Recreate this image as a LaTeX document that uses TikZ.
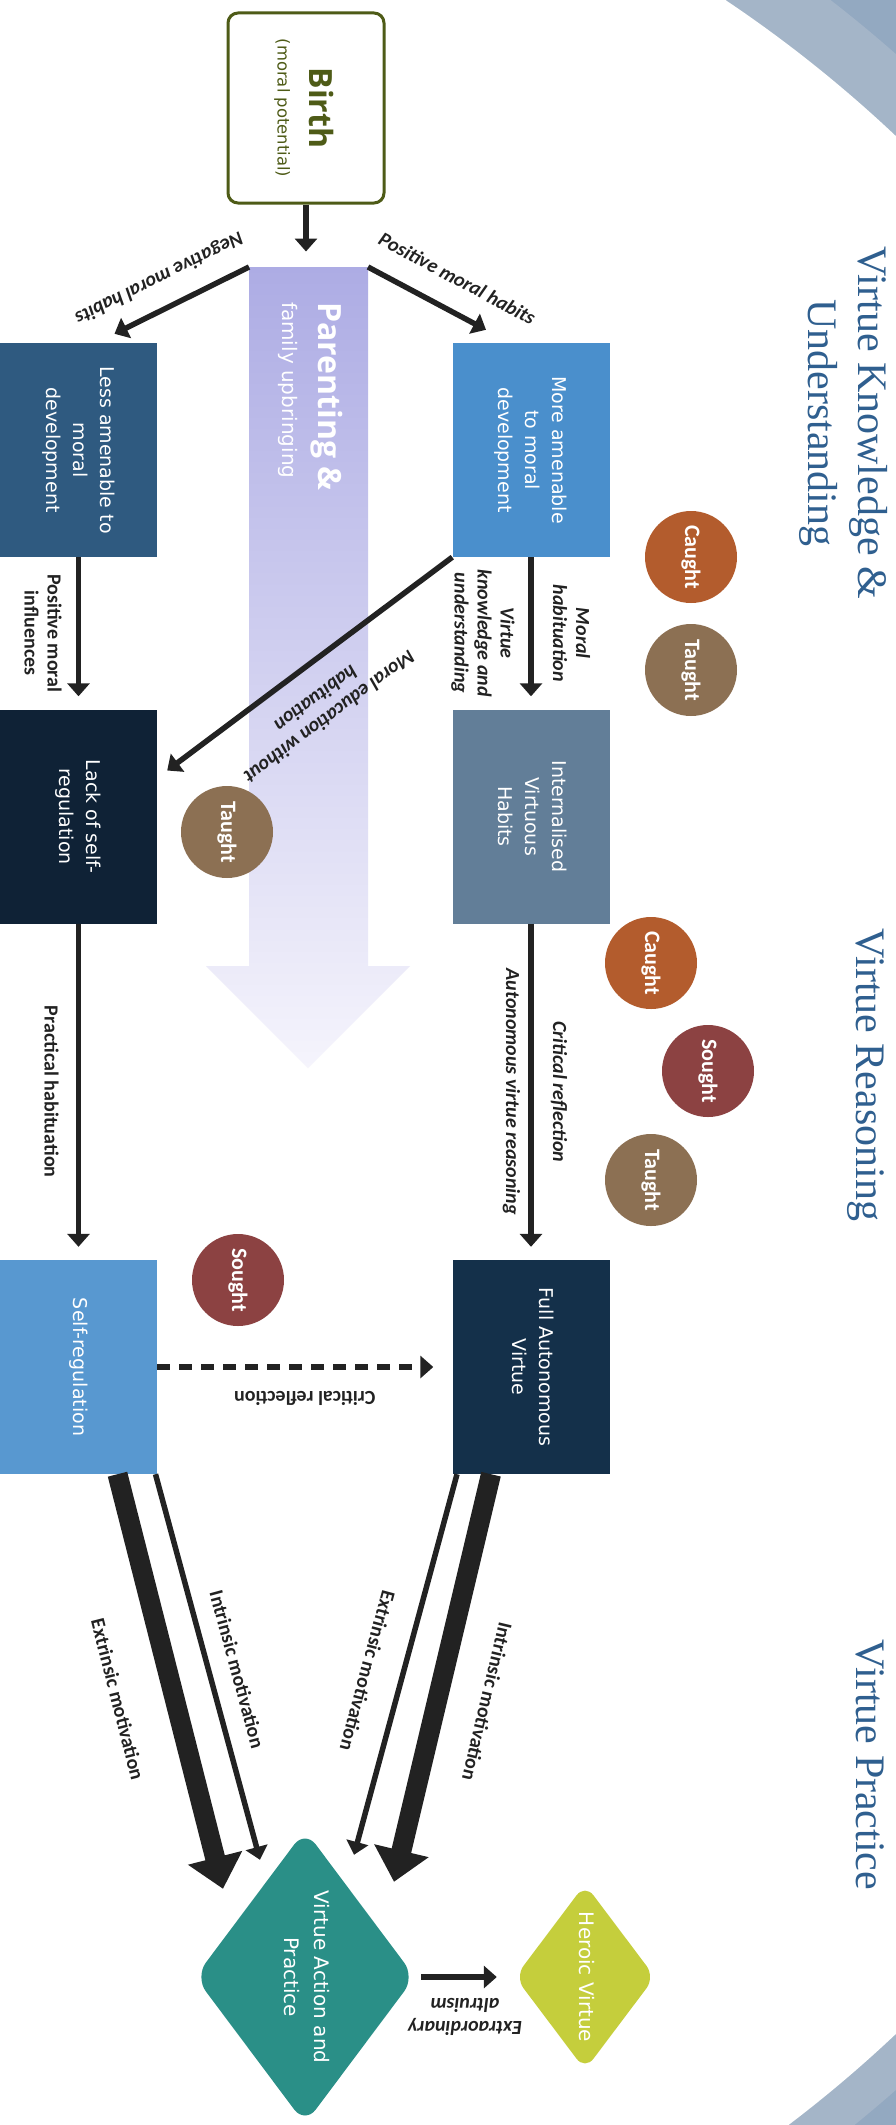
\documentclass[tikz,border=0pt]{standalone}
\usepackage{fontspec}
\setmainfont{Open Sans}
\newfontfamily\boxfont{DejaVu Sans}
\newfontfamily\lblfont{Carlito}
\newfontfamily\ttlfont{Liberation Serif}
\usepackage{graphicx}
\usetikzlibrary{arrows.meta,shapes.geometric}

\definecolor{olivec}{HTML}{4E5B17}
\definecolor{arrowc}{HTML}{222222}
\definecolor{lessc}{HTML}{2F5A80}
\definecolor{morec}{HTML}{4A8FCC}
\definecolor{lackc}{HTML}{0F2236}
\definecolor{habitc}{HTML}{627E98}
\definecolor{selfc}{HTML}{5898D0}
\definecolor{fullc}{HTML}{14304A}
\definecolor{actc}{HTML}{2A8F87}
\definecolor{heroc}{HTML}{C5CE3C}
\definecolor{caughtc}{HTML}{B35C2D}
\definecolor{taughtc}{HTML}{8C7053}
\definecolor{soughtc}{HTML}{8C4242}
\definecolor{titlec}{HTML}{2F5F8F}
\definecolor{bglight}{HTML}{A4B5C8}
\definecolor{bgdark}{HTML}{93A9C1}
\definecolor{parentc}{HTML}{ADACE4}
\definecolor{parentend}{HTML}{F5F4FC}

% text turned a quarter clockwise / upside down, lines centred
\newcommand{\vt}[1]{\rotatebox{-90}{\begin{tabular}{@{}c@{}}#1\end{tabular}}}
\newcommand{\ut}[1]{\rotatebox{180}{\begin{tabular}{@{}c@{}}#1\end{tabular}}}

\tikzset{
  stagebox/.style={rectangle, minimum width=157pt, minimum height=214pt, inner sep=0pt,
    text=white, font=\boxfont\fontsize{19}{27}\selectfont},
  gem/.style={diamond, aspect=.74, inner sep=0pt, text=white},
  way/.style={draw=arrowc, line width=5.5pt, -{Triangle[width=22pt,length=13pt]}},
  bigway/.style={draw=arrowc, line width=20pt, -{Triangle[width=54pt,length=32pt]}},
  lbl/.style={inner sep=0pt, text=arrowc, allow upside down,
    font=\lblfont\bfseries\fontsize{20}{23}\selectfont},
  ilbl/.style={lbl, font=\lblfont\bfseries\itshape\fontsize{20}{23}\selectfont},
  blob/.style={circle, minimum size=92pt, inner sep=0pt, text=white,
    font=\lblfont\bfseries\fontsize{22}{26}\selectfont},
  phasetitle/.style={inner sep=0pt, text=titlec, font=\ttlfont\fontsize{42}{50}\selectfont},
}

\begin{document}
\begin{tikzpicture}[x=1pt,y=-1pt]
\useasboundingbox (0,0) rectangle (896,2125);
\clip (0,0) rectangle (896,2125);
% backdrop
\fill[bgdark] (0,0) rectangle (896,2125);
\fill[bglight] (0,1072) circle (1356);
\fill[white] (0,1085) circle (1305);

% parenting arrow
\shade[top color=parentc, bottom color=parentend] (249,267) -- (368,267) -- (368,966) -- (410,966)
  -- (308,1068) -- (206,966) -- (249,966) -- cycle;
\coordinate (pl) at (249,267);
\coordinate (pr) at (368,267);
\node[anchor=north, inner sep=0pt, text=white, font=\boxfont\fontsize{20}{36}\selectfont] (parent) at (308,302)
  {\rotatebox{-90}{\begin{tabular}{@{}l@{}}{\rmfamily\bfseries\fontsize{32}{36}\selectfont Parenting \&}\\family upbringing\end{tabular}}};

% birth
\node[rectangle, rounded corners=10pt, draw=olivec, line width=3pt, fill=white,
  minimum width=156pt, minimum height=190pt] (birth) at (306,108) {};
\node[inner sep=0pt, text=olivec, font=\boxfont\fontsize{16.4}{32}\selectfont] (birthtext) at (301,108)
  {\vt{{\rmfamily\bfseries\fontsize{32}{32}\selectfont Birth}\\(moral potential)}};

% stages
\node[stagebox, fill=lessc] (less) at (78.5,450) {\vt{Less amenable to\\moral\\development}};
\node[stagebox, fill=morec] (more) at (531,450) {\vt{More amenable\\to moral\\development}};
\node[stagebox, fill=lackc] (lack) at (78.5,816.5) {\vt{Lack of self-\\regulation}};
\node[stagebox, fill=habitc] (habits) at (531,816.5) {\vt{Internalised\\Virtuous\\Habits}};
\node[stagebox, fill=selfc] (selfreg) at (78.5,1367) {\vt{Self-regulation}};
\node[stagebox, fill=fullc] (full) at (531,1367) {\vt{Full Autonomous\\Virtue}};

\node[gem, fill=actc, rounded corners=18pt, minimum width=220pt, minimum height=294pt,
  font=\boxfont\fontsize{20}{30}\selectfont] (act) at (305,1977) {\vt{Virtue Action and\\Practice}};
\node[gem, fill=heroc, rounded corners=14pt, minimum width=140pt, minimum height=186pt,
  font=\boxfont\fontsize{20}{26}\selectfont] (hero) at (585,1977) {\vt{Heroic Virtue}};

% caught, taught, sought
\node[blob, fill=caughtc] (caught1) at (691,557) {\rotatebox{-90}{Caught}};
\node[blob, fill=taughtc] (taught1) at (691,670) {\rotatebox{-90}{Taught}};
\node[blob, fill=taughtc] (taught2) at (227,832) {\rotatebox{-90}{Taught}};
\node[blob, fill=caughtc] (caught2) at (651,963) {\rotatebox{-90}{Caught}};
\node[blob, fill=soughtc] (sought1) at (708,1071) {\rotatebox{-90}{Sought}};
\node[blob, fill=taughtc] (taught3) at (651,1180) {\rotatebox{-90}{Taught}};
\node[blob, fill=soughtc] (sought2) at (238,1280) {\rotatebox{-90}{Sought}};

% phases
\node[phasetitle] (knowing) at (843,423) {\vt{Virtue Knowledge \&\\Understanding}};
\node[phasetitle] (reasoning) at (866,1075) {\vt{Virtue Reasoning}};
\node[phasetitle] (practice) at (866,1765) {\vt{Virtue Practice}};

% connectors
\draw[way] (birth.south) -- ++(0,47);
\draw[way] (pl) -- ([shift={(36,-9)}]less.north)
  node[pos=.57, sloped, below=19pt, ilbl] {Negative moral habits};
\draw[way] (pr) -- ([shift={(-45,-13)}]more.north)
  node[pos=.63, sloped, above=22pt, ilbl] {Positive moral habits};
\draw[way, shorten >=13pt] (less) -- (lack)
  node[midway, left=12pt, lbl] {\vt{Positive moral\\influences}};
\draw[way, shorten >=13pt] (more) -- (habits)
  node[midway, right=12.5pt, ilbl] {\vt{Moral\\habituation}}
  node[midway, left=11.5pt, ilbl] {\vt{Virtue\\knowledge and\\understanding}};
\draw[way] (more.south west) -- ([shift={(10,-46)}]lack.east)
  node[pos=.545, sloped, above=22pt, ilbl, align=center] {Moral education without\\habituation};
\draw[way, shorten >=13pt] (lack) -- (selfreg)
  node[midway, left=15pt, lbl] {\vt{Practical habituation}};
\draw[way, shorten >=13pt] (habits) -- (full)
  node[midway, right=12.5pt, ilbl] {\vt{Critical reflection}}
  node[midway, left=6pt, ilbl] {\vt{Autonomous virtue reasoning}};
\draw[way, dash pattern=on 13pt off 9pt, shorten >=19pt] (selfreg) -- (full)
  node[midway, below=15pt, lbl] {\ut{Critical reflection}};

\draw[bigway] ([xshift=39pt]selfreg.south) -- ([shift={(-82,59)}]act.north)
  node[pos=.51, sloped, below=38pt, lbl] {Extrinsic motivation};
\draw[way] ([xshift=77pt]selfreg.south) -- ([shift={(-45,30)}]act.north)
  node[pos=.525, sloped, above=18pt, lbl] {Intrinsic motivation};
\draw[way] ([xshift=-74pt]full.south) -- ([shift={(49,25)}]act.north)
  node[pos=.54, sloped, below=25pt, lbl] {Extrinsic motivation};
\draw[bigway] ([xshift=-40pt]full.south) -- ([shift={(89,52)}]act.north)
  node[pos=.53, sloped, above=32pt, lbl] {Intrinsic motivation};
\draw[way, shorten <=6pt, shorten >=18pt] (act) -- (hero)
  node[midway, below=12pt, ilbl] {\ut{Extraordinary\\altruism}};
\end{tikzpicture}
\end{document}
